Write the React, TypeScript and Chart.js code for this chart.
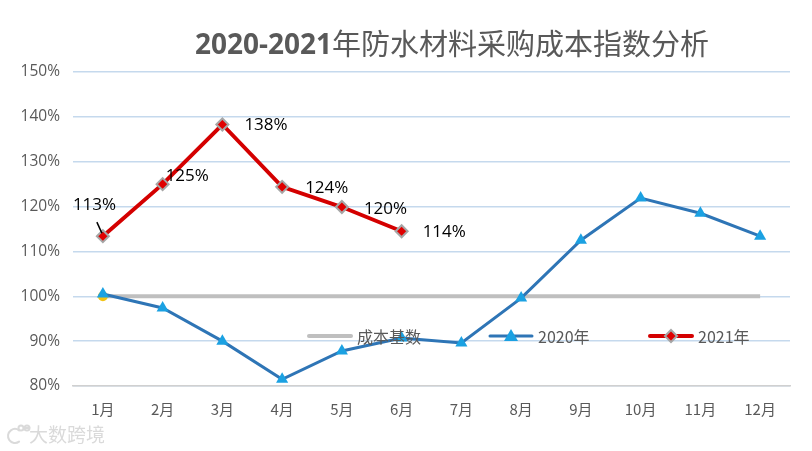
import React, { useEffect, useRef } from "react";
import { Chart, registerables } from "chart.js";

Chart.register(...registerables);

const categories = ["1月", "2月", "3月", "4月", "5月", "6月", "7月", "8月", "9月", "10月", "11月", "12月"];
const baseValues = [100, 100, 100, 100, 100, 100, 100, 100, 100, 100, 100, 100];
const values2020 = [100.5, 97.4, 90.0, 81.5, 87.8, 90.7, 89.6, 99.6, 112.5, 121.9, 118.5, 113.4];
const values2021 = [113.4, 125.0, 138.3, 124.4, 119.9, 114.5];
const labels2021 = ["113%", "125%", "138%", "124%", "120%", "114%"];
const seriesNames = ["成本基数", "2020年", "2021年"];
const titleBold = "2020-2021";
const titleRest = "年防水材料采购成本指数分析";

const labelOffsets = [
  [-30, -31],
  [3, -8],
  [22, 1],
  [23, 1],
  [22, 2],
  [21, 1],
];

const textColor = "#595959";

const overlayPlugin = {
  id: "overlay",
  afterDraw(chart: any) {
    const ctx = chart.ctx;
    const area = chart.chartArea;
    ctx.save();
    // title
    ctx.textBaseline = "middle";
    ctx.fillStyle = textColor;
    ctx.font = "bold 28px 'Open Sans'";
    const w1 = ctx.measureText(titleBold).width;
    ctx.font = "29px 'Noto Sans CJK SC'";
    const w2 = ctx.measureText(titleRest).width;
    const tx = 452 - (w1 + w2) / 2;
    ctx.font = "bold 28px 'Open Sans'";
    ctx.textAlign = "left";
    ctx.fillText(titleBold, tx, 46);
    ctx.font = "29px 'Noto Sans CJK SC'";
    ctx.fillText(titleRest, tx + w1, 44);

    // data labels for 2021
    const meta = chart.getDatasetMeta(2);
    ctx.font = "17px 'Open Sans'";
    ctx.fillStyle = "#000";
    ctx.textAlign = "left";
    meta.data.forEach((pt: any, i: number) => {
      const [dx, dy] = labelOffsets[i];
      ctx.fillText(labels2021[i], pt.x + dx, pt.y + dy);
    });
    const p0 = meta.data[0];
    ctx.strokeStyle = "#000";
    ctx.lineWidth = 1.5;
    ctx.beginPath();
    ctx.moveTo(p0.x - 6, p0.y - 14);
    ctx.lineTo(p0.x - 1, p0.y - 3);
    ctx.stroke();

    // legend
    const ly = area.top + 264;
    ctx.font = "16px 'Noto Sans CJK SC'";
    ctx.fillStyle = textColor;
    ctx.textBaseline = "middle";
    const items = [
      { x: 307, color: "#bfbfbf", w: 4, marker: null },
      { x: 488, color: "#2e75b6", w: 3, marker: "triangle" },
      { x: 648, color: "#d40000", w: 4, marker: "rectRot" },
    ];
    items.forEach((it, i) => {
      ctx.strokeStyle = it.color;
      ctx.lineWidth = it.w;
      ctx.lineCap = "round";
      ctx.beginPath();
      ctx.moveTo(it.x + 2, ly);
      ctx.lineTo(it.x + 44, ly);
      ctx.stroke();
      if (it.marker === "triangle") {
        ctx.fillStyle = "#1ba1e2";
        ctx.beginPath();
        ctx.moveTo(it.x + 23, ly - 7);
        ctx.lineTo(it.x + 30, ly + 5);
        ctx.lineTo(it.x + 16, ly + 5);
        ctx.closePath();
        ctx.fill();
      } else if (it.marker === "rectRot") {
        ctx.fillStyle = "#e00000";
        ctx.strokeStyle = "#a6a6a6";
        ctx.lineWidth = 2;
        ctx.beginPath();
        ctx.moveTo(it.x + 23, ly - 6);
        ctx.lineTo(it.x + 29, ly);
        ctx.lineTo(it.x + 23, ly + 6);
        ctx.lineTo(it.x + 17, ly);
        ctx.closePath();
        ctx.fill();
        ctx.stroke();
      }
      ctx.fillStyle = textColor;
      ctx.fillText(seriesNames[i], it.x + 50, ly + 1);
    });

    // watermark
    ctx.font = "19px 'Noto Sans CJK SC'";
    ctx.fillStyle = "#dadada";
    ctx.fillText("大数跨境", 29, 435);
    ctx.strokeStyle = "#dadada";
    ctx.lineWidth = 2;
    ctx.beginPath();
    ctx.arc(15, 436, 7, 0.3 * Math.PI, 1.7 * Math.PI);
    ctx.stroke();
    ctx.beginPath();
    ctx.arc(21, 428, 2.5, 0, 2 * Math.PI);
    ctx.arc(27, 428, 2.5, 0, 2 * Math.PI);
    ctx.stroke();
    ctx.restore();
  },
};

export default function App() {
  const ref = useRef<HTMLCanvasElement>(null);
  useEffect(() => {
    document.body.style.margin = "0";
    const chart = new Chart(ref.current!, {
      type: "line",
      data: {
        labels: categories,
        datasets: [
          {
            label: seriesNames[0],
            data: baseValues,
            borderColor: "#bfbfbf",
            borderWidth: 4,
            pointRadius: [5, 0, 0, 0, 0, 0, 0, 0, 0, 0, 0, 0],
            pointBackgroundColor: "#f2c314",
            pointBorderWidth: 0,
            pointStyle: "circle",
            order: 3,
          },
          {
            label: seriesNames[1],
            data: values2020,
            borderColor: "#2e75b6",
            borderWidth: 3,
            pointStyle: "triangle",
            pointRadius: 7,
            pointBackgroundColor: "#1ba1e2",
            pointBorderColor: "#1ba1e2",
            pointBorderWidth: 0,
            order: 2,
          },
          {
            label: seriesNames[2],
            data: values2021,
            borderColor: "#d40000",
            borderWidth: 4,
            pointStyle: "rectRot",
            pointRadius: 6,
            pointBackgroundColor: "#e00000",
            pointBorderColor: "#a6a6a6",
            pointBorderWidth: 2,
            order: 1,
          },
        ],
      },
      options: {
        animation: false,
        responsive: false,
        devicePixelRatio: 1,
        layout: { padding: { top: 72, right: 22, left: 0, bottom: 0 } },
        plugins: { legend: { display: false }, title: { display: false }, tooltip: { enabled: false } },
        scales: {
          x: {
            offset: true,
            grid: { display: false, drawTicks: false },
            border: { display: true, color: "#d0d0d0", width: 1.5 },
            ticks: { color: textColor, font: { family: "'Noto Sans CJK SC'", size: 15 }, padding: 14 },
            afterFit: (s: any) => {
              s.height = 65;
            },
          },
          y: {
            min: 80,
            max: 150,
            ticks: {
              stepSize: 10,
              color: textColor,
              font: { family: "'Open Sans'", size: 15.5 },
              padding: 13,
              callback: (v: any) => v + "%",
            },
            grid: { color: "#c5d9ed", lineWidth: 1.5, drawTicks: false },
            border: { display: false },
            afterFit: (s: any) => {
              s.width = 73;
            },
          },
        },
      },
      plugins: [overlayPlugin],
    });
    return () => chart.destroy();
  }, []);
  return <canvas ref={ref} width={812} height={451} style={{ display: "block" }} />;
}
